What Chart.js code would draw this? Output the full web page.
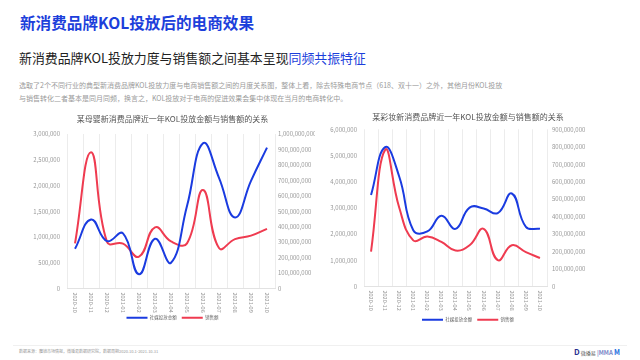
<!DOCTYPE html>
<html>
<head>
<meta charset="utf-8">
<script src="https://cdn.jsdelivr.net/npm/chart.js@4.4.0/dist/chart.umd.min.js"></script>
<style>
  html, body { margin: 0; padding: 0; background: #fff; }
  body { width: 640px; height: 360px; position: relative; overflow: hidden;
         font-family: "Noto Sans CJK SC", "Noto Sans", sans-serif; }
  .abs { position: absolute; white-space: nowrap; }
  #title { left: 20px; top: 11px; font-size: 15.6px; font-weight: bold; color: #1c3fdb; }
  #subtitle { left: 19px; top: 48px; font-size: 12.9px; color: #222; }
  #subtitle span { color: #1c3fdb; }
  .para { left: 19px; font-size: 7px; color: #9a9a9a; }
  #footline { left: 13px; top: 345px; width: 614px; height: 1px; background: #f0f0f0; }
  #source { left: 19px; top: 348px; font-size: 4px; color: #999; }
  #logo { left: 574px; top: 346px; font-size: 5px; color: #555; }
  #logo b { color: #2b2f8f; font-size: 8px; }
  #logo i { font-style: normal; color: #7a86c8; font-weight: bold; font-size: 6px; }
  #logo u { text-decoration: none; color: #1c6fe0; font-weight: bold; font-size: 7px; }
  #leftBox { left: 10px; top: 106px; }
  #rightBox { left: 318px; top: 103px; }
</style>
</head>
<body>
<div class="abs" id="title">新消费品牌KOL投放后的电商效果</div>
<div class="abs" id="subtitle">新消费品牌KOL投放力度与销售额之间基本呈现<span>同频共振特征</span></div>
<div class="abs para" style="top:80px">选取了2个不同行业的典型新消费品牌KOL投放力度与电商销售额之间的月度关系图，整体上看，除去特殊电商节点（618、双十一）之外，其他月份KOL投放</div>
<div class="abs para" style="top:93px">与销售转化二者基本是同月同频，换言之，KOL投放对于电商的促进效果会集中体现在当月的电商转化中。</div>

<div class="abs" id="leftBox"><canvas id="leftChart" width="305" height="226"></canvas></div>
<div class="abs" id="rightBox"><canvas id="rightChart" width="300" height="231"></canvas></div>

<div class="abs" id="footline"></div>
<div class="abs" id="source">数据来源：魔镜市场情报，微播易数据研究院，数据周期2020.10.1-2021.10.31</div>
<div class="abs" id="logo"><b>D</b> 微播易 <i>|MMA</i> <u>M</u></div>

<script>
// 月份
const months = ["2020-10", "2020-11", "2020-12", "2021-01", "2021-02", "2021-03", "2021-04",
  "2021-05", "2021-06", "2021-07", "2021-08", "2021-09", "2021-10"];

// 母婴品牌
const babyKol = [770000, 1340000, 920000, 1070000, 275000, 965000, 500000,
  1600000, 2820000, 2150000, 1380000, 2090000, 2735000];
const babySales = [292000000, 882000000, 302000000, 290000000, 206000000, 396000000, 305000000,
  292000000, 637000000, 262000000, 320000000, 342000000, 386000000];

// 彩妆品牌
const makeupKol = [3490000, 5320000, 4200000, 2150000, 2100000, 2700000, 2200000,
  3010000, 2980000, 2800000, 3550000, 2280000, 2200000];
const makeupSales = [200000000, 782000000, 452000000, 264000000, 286000000, 255000000, 206000000,
  236000000, 330000000, 151000000, 236000000, 197000000, 163000000];

const seriesNames = ["社媒投放金额", "销售额"];
const blue = "#1a3be0";
const red = "#ef3b50";

// x 轴标签顺时针旋转
const rotatedLabels = {
  id: "rotatedLabels",
  afterDraw(chart) {
    const x = chart.scales.x;
    const ctx = chart.ctx;
    ctx.save();
    ctx.font = "5.5px 'Noto Sans CJK SC', sans-serif";
    ctx.fillStyle = "#999";
    ctx.textAlign = "left";
    ctx.textBaseline = "middle";
    x.ticks.forEach((t, i) => {
      ctx.save();
      ctx.translate(x.getPixelForTick(i), x.top + 4);
      ctx.rotate(Math.PI / 2);
      ctx.fillText(chart.data.labels[i], 0, 0);
      ctx.restore();
    });
    ctx.restore();
  }
};

function makeChart(id, title, kol, sales, opt) {
  const tickFont = { size: 6, family: "'Noto Sans CJK SC', sans-serif" };
  return new Chart(document.getElementById(id), {
    type: "line",
    data: {
      labels: months,
      datasets: [
        { label: seriesNames[0], data: kol, yAxisID: "y", borderColor: blue, backgroundColor: blue,
          borderWidth: 2, pointRadius: 0, tension: 0.45 },
        { label: seriesNames[1], data: sales, yAxisID: "y1", borderColor: red, backgroundColor: red,
          borderWidth: 2, pointRadius: 0, tension: 0.45 }
      ]
    },
    options: {
      responsive: false,
      devicePixelRatio: 1,
      animation: false,
      layout: { padding: { left: opt.legendShift, right: 0, top: 0, bottom: opt.bottomPad } },
      plugins: {
        title: {
          display: true, text: title, color: "#555",
          font: { size: 8, weight: "normal", family: "'Noto Sans CJK SC', sans-serif" },
          padding: opt.titlePad
        },
        legend: {
          position: "bottom",
          labels: {
            usePointStyle: true, pointStyle: "line", pointStyleWidth: 21,
            color: "#666", padding: 5,
            font: { size: 4.5, family: "'Noto Sans CJK SC', sans-serif" }
          }
        },
        tooltip: { enabled: false }
      },
      scales: {
        x: {
          offset: true,
          grid: { offset: true, color: "#ececec", drawTicks: false },
          border: { color: "#e2e2e2" },
          ticks: { display: false },
          afterFit: (s) => { s.height = opt.xHeight; }
        },
        y: {
          position: "left", min: 0, max: opt.leftMax, grid: { display: false, drawTicks: false },
          border: { display: false },
          ticks: { stepSize: opt.leftStep, color: "#999", font: tickFont, padding: opt.leftPad,
            callback: (v) => v.toLocaleString("en-US") },
          afterFit: (s) => { s.width = opt.leftWidth - opt.legendShift; }
        },
        y1: {
          position: "right", min: 0, max: opt.rightMax, grid: { display: false, drawTicks: false },
          border: { display: false },
          ticks: { stepSize: opt.rightStep, color: "#999", font: tickFont, padding: opt.rightPad,
            callback: (v) => v.toLocaleString("en-US") },
          afterFit: (s) => { s.width = opt.rightWidth; }
        }
      }
    },
    plugins: [rotatedLabels]
  });
}

makeChart("leftChart", "某母婴新消费品牌近一年KOL投放金额与销售额的关系", babyKol, babySales, {
  leftMax: 3000000, leftStep: 500000, rightMax: 1000000000, rightStep: 100000000,
  leftWidth: 57, rightWidth: 40, leftPad: 7, rightPad: 3, legendShift: 20,
  titlePad: { top: 8, bottom: 10.4 }, xHeight: 22, bottomPad: 2
});

makeChart("rightChart", "某彩妆新消费品牌近一年KOL投放金额与销售额的关系", makeupKol, makeupSales, {
  leftMax: 6000000, leftStep: 1000000, rightMax: 900000000, rightStep: 100000000,
  leftWidth: 46, rightWidth: 71, leftPad: 7, rightPad: 5, legendShift: 0,
  titlePad: { top: 9, bottom: 7.7 }, xHeight: 26, bottomPad: 2
});
</script>
</body>
</html>
